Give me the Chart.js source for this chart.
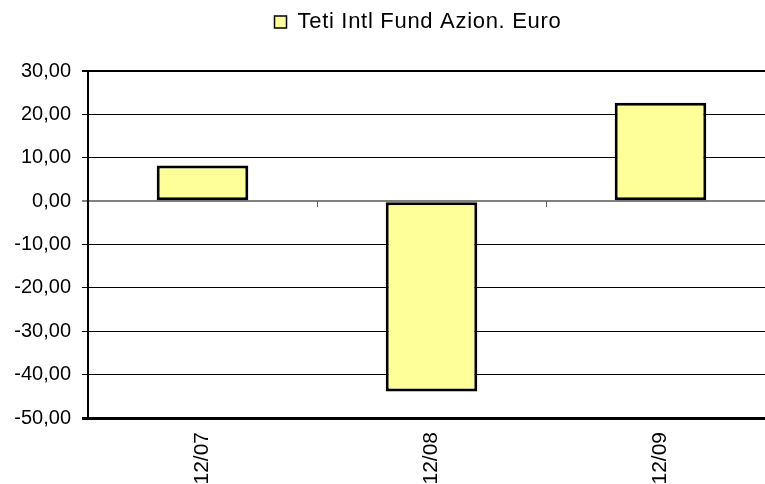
<!DOCTYPE html>
<html>
<head>
<meta charset="utf-8">
<script src="https://cdn.jsdelivr.net/npm/chart.js@4.4.1/dist/chart.umd.min.js"></script>
<style>
  html, body { margin: 0; padding: 0; background: #ffffff; overflow: hidden; width: 765px; height: 484px; }
  canvas { display: block; }
</style>
</head>
<body>
<canvas id="c" width="780" height="484"></canvas>
<script>
const categories = ['12/07', '12/08', '12/09'];
const seriesName = 'Teti Intl Fund Azion. Euro';
const seriesValues = [8.2, -43.9, 22.7];
const yMin = -50;
const yMax = 30;
const yStep = 10;

const FONT = 'Liberation Sans, Arial, sans-serif';
const LEGEND_SPACING = '0.7px';

const legendTweak = {
  id: 'legendTweak',
  beforeInit(chart) {
    const lg = chart.legend;
    const origFit = lg.fit;
    lg.fit = function () {
      this.ctx.letterSpacing = LEGEND_SPACING;
      origFit.call(this);
      this.ctx.letterSpacing = '0px';
      this.height += 28;
    };
    const origDraw = lg.draw;
    lg.draw = function () {
      this.ctx.letterSpacing = LEGEND_SPACING;
      origDraw.call(this);
      this.ctx.letterSpacing = '0px';
    };
  },
  afterLayout(chart) {
    chart.legend.left += 25;
    chart.legend.right += 25;
  }
};

const zeroTicks = {
  id: 'zeroTicks',
  afterDatasetsDraw(chart) {
    const x = chart.scales.x, y = chart.scales.y;
    const y0 = y.getPixelForValue(0);
    const ctx = chart.ctx;
    ctx.save();
    ctx.strokeStyle = '#606060';
    ctx.lineWidth = 1;
    for (let i = 0; i < categories.length - 1; i++) {
      const px = Math.round(x.getPixelForValue(i + 0.5)) + 0.5;
      ctx.beginPath();
      ctx.moveTo(px, y0);
      ctx.lineTo(px, y0 + 6);
      ctx.stroke();
    }
    ctx.restore();
  }
};

new Chart(document.getElementById('c'), {
  type: 'bar',
  data: {
    labels: categories,
    datasets: [{
      label: seriesName,
      data: seriesValues,
      backgroundColor: '#FFFF99',
      borderColor: '#000000',
      borderWidth: 3,
      borderSkipped: false,
      categoryPercentage: 1.0,
      barPercentage: 0.4
    }]
  },
  options: {
    responsive: false,
    devicePixelRatio: 1,
    animation: false,
    layout: { padding: { left: 11, right: 5, top: 0, bottom: 0 } },
    plugins: {
      tooltip: { enabled: false },
      legend: {
        display: true,
        position: 'top',
        labels: {
          boxWidth: 12,
          boxHeight: 12,
          padding: 11,
          color: '#000000',
          font: { family: FONT, size: 22 },
          generateLabels(chart) {
            return Chart.defaults.plugins.legend.labels.generateLabels(chart)
              .map(l => Object.assign(l, { lineWidth: 1.5 }));
          }
        }
      }
    },
    scales: {
      x: {
        offset: true,
        afterFit(scale) { scale.height = 66; },
        grid: { display: false, drawTicks: false },
        border: { display: true, color: '#000000', width: 3 },
        ticks: {
          autoSkip: false,
          minRotation: 90,
          maxRotation: 90,
          padding: 14,
          color: '#000000',
          font: { family: FONT, size: 21 }
        }
      },
      y: {
        min: yMin,
        max: yMax,
        afterFit(scale) { scale.width = 77; },
        grid: {
          color: (c) => (c.tick && c.tick.value === 0) ? '#808080' : '#000000',
          lineWidth: (c) => {
            if (!c.tick) return 1;
            if (c.tick.value === 0) return 2;
            if (c.tick.value === yMax) return 2;
            if (c.tick.value === yMin) return 3;
            return 1;
          },
          tickLength: 6,
          drawTicks: true
        },
        border: { display: true, color: '#000000', width: 2 },
        ticks: {
          stepSize: yStep,
          padding: 11,
          color: '#000000',
          font: { family: FONT, size: 20 },
          callback: (v) => Number(v).toFixed(2).replace('.', ',')
        }
      }
    }
  },
  plugins: [legendTweak, zeroTicks]
});
</script>
</body>
</html>
